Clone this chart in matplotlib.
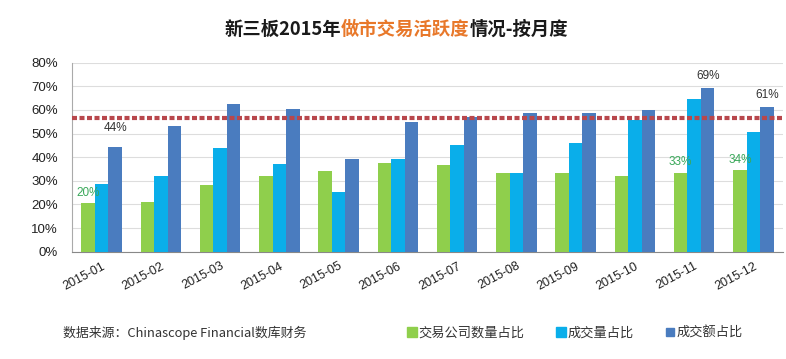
import matplotlib
matplotlib.use("Agg")
import matplotlib.pyplot as plt
from matplotlib.lines import Line2D
import numpy as np

plt.rcParams['font.family'] = ['Noto Sans CJK SC', 'DejaVu Sans']

months = ['2015-01', '2015-02', '2015-03', '2015-04', '2015-05', '2015-06',
          '2015-07', '2015-08', '2015-09', '2015-10', '2015-11', '2015-12']
company_ratio = [20.5, 20.9, 28.3, 32.0, 34.2, 37.5, 36.7, 33.3, 33.3, 32.1, 33.5, 34.5]
volume_ratio = [28.7, 32.1, 43.9, 37.1, 25.3, 39.3, 45.2, 33.3, 46.1, 55.8, 64.7, 50.7]
amount_ratio = [44.5, 53.2, 62.6, 60.4, 39.3, 55.1, 57.2, 58.6, 58.6, 60.0, 69.4, 61.3]
ref_line = 56.8
series_names = ['交易公司数量占比', '成交量占比', '成交额占比']
yticks = [0, 10, 20, 30, 40, 50, 60, 70, 80]

c_green = '#8fcf4c'
c_cyan = '#0aaeea'
c_blue = '#4a7cbf'
num_font = ['Liberation Sans', 'DejaVu Sans']

fig = plt.figure(figsize=(7.86, 3.59), dpi=100)
fig.patch.set_facecolor('white')
ax = fig.add_axes([0.0916, 0.2989, 0.9046, 0.5264])

x = np.arange(len(months))
w = 0.228
b1 = ax.bar(x - w, company_ratio, w, color=c_green, zorder=3)
b2 = ax.bar(x, volume_ratio, w, color=c_cyan, zorder=3)
b3 = ax.bar(x + w, amount_ratio, w, color=c_blue, zorder=3)

ax.axhline(ref_line, color='#b8474c', lw=3, linestyle=(0, (1.2, 0.6)), zorder=4)

ax.set_xlim(-0.5, len(months) - 0.5)
ax.set_ylim(0, 80)
ax.set_yticks(yticks)
ax.set_yticklabels([f'{v}%' for v in yticks], fontsize=9.5, color='#222222',
                   family=num_font)
ax.yaxis.grid(True, color='#dddddd', lw=0.8, zorder=0)
ax.set_axisbelow(True)
ax.tick_params(axis='y', length=0, pad=10)
ax.tick_params(axis='x', length=0, pad=6)
ax.set_xticks(x)
ax.set_xticklabels(months, rotation=28, ha='right', rotation_mode='anchor',
                   fontsize=9, color='#222222', family=num_font)
for s in ['top', 'right']:
    ax.spines[s].set_visible(False)
ax.spines['left'].set_color('#aaaaaa')
ax.spines['bottom'].set_color('#888888')

# data labels
lab_green = '#3aa85a'
lab_dark = '#333333'
for i in [0, 10, 11]:
    ax.annotate(f'{int(company_ratio[i])}%', (x[i] - w, company_ratio[i]),
                xytext=(0, 3), textcoords='offset points', ha='center', va='bottom',
                fontsize=8.5, color=lab_green, zorder=5, family=num_font)
ax.annotate(f'{int(amount_ratio[0])}%', (x[0] + w, amount_ratio[0]),
            xytext=(0, 9), textcoords='offset points', ha='center', va='bottom',
            fontsize=8.5, color=lab_dark, zorder=5, family=num_font)
for i in [10, 11]:
    ax.annotate(f'{int(amount_ratio[i])}%', (x[i] + w, amount_ratio[i]),
                xytext=(0, 4), textcoords='offset points', ha='center', va='bottom',
                fontsize=8.5, color=lab_dark, zorder=5, family=num_font)

# title with coloured middle part
parts = [('新三板2015年', '#1a1a1a'), ('做市交易活跃度', '#e8782a'), ('情况-按月度', '#1a1a1a')]
fig.canvas.draw()
r = fig.canvas.get_renderer()
texts = []
for s, c in parts:
    t = fig.text(0, 1 - 29 / 359, s, color=c, fontsize=13.2, fontweight='bold',
                 va='center', ha='left')
    texts.append(t)
widths = [t.get_window_extent(r).width for t in texts]
total = sum(widths)
xpos = 396 - total / 2
for t, wd in zip(texts, widths):
    t.set_x(xpos / 786)
    xpos += wd

fig.text(63 / 786, 1 - 333 / 359, '数据来源：Chinascope Financial数库财务', fontsize=9.3,
         color='#333333', va='center', ha='left')

handles = [Line2D([], [], linestyle='none', marker='s', markersize=7.4, color=c_green),
           Line2D([], [], linestyle='none', marker='s', markersize=7.4, color=c_cyan),
           Line2D([], [], linestyle='none', marker='s', markersize=5.6, color=c_blue)]
fig.legend(handles=handles, labels=series_names, loc='center left',
           bbox_to_anchor=(407 / 786, 1 - 333 / 359), ncol=3, frameon=False,
           fontsize=9.5, handlelength=0.8, handletextpad=0.05, borderpad=0,
           borderaxespad=0, columnspacing=2.4, labelcolor='#333333')

fig.savefig('out.png', dpi=100, facecolor='white')
